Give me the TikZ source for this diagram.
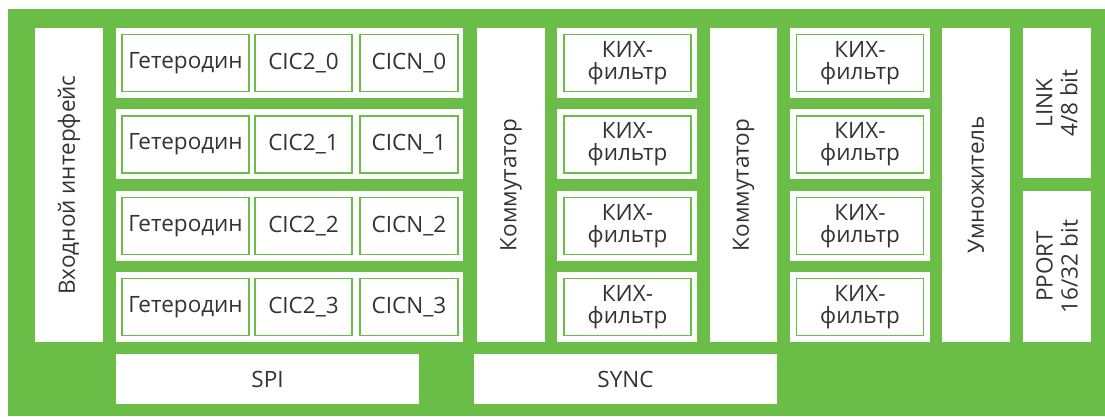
\documentclass[tikz,border=0pt]{standalone}
\usepackage{fontspec}
\setmainfont{Open Sans}
\definecolor{grn}{HTML}{6ABD47}
\definecolor{txt}{HTML}{333333}
\begin{document}
\begin{tikzpicture}[x=1pt,y=-1pt,
  panel/.style={fill=white,draw=none,inner sep=0pt,outer sep=0pt,anchor=north west,text=txt,
    font=\fontsize{22.5}{22}\selectfont,align=center},
  cell/.style={panel,draw=grn,line width=1.4pt},
  vert/.style={rotate=90,text=txt,font=\fontsize{22.5}{25}\selectfont,align=center,inner sep=0pt}]
\useasboundingbox (0,0) rectangle (1105,416);
\fill[grn] (8,9) rectangle (1105,416);
% input interface
\node[panel,minimum width=68pt,minimum height=314pt] (inp) at (35,28) {};
\node[vert] (inpt) at (inp.center) {Входной интерфейс};
% heterodyne rows
\foreach \i/\yy in {0/28,1/109.3,2/190.7,3/272}{
  \node[panel,minimum width=347pt,minimum height=70pt] (row\i) at (116,\yy) {};
  \node[cell,minimum width=127pt,minimum height=57pt] (het\i) at (122,\yy+6.5) {Гетеродин};
  \node[cell,minimum width=97pt,minimum height=57pt] (cic\i) at (255,\yy+6.5) {CIC2\_\i};
  \node[cell,minimum width=98pt,minimum height=57pt] (cicn\i) at (360,\yy+6.5) {CICN\_\i};
  \node[panel,minimum width=140pt,minimum height=70pt] (fa\i) at (557,\yy) {};
  \node[cell,minimum width=127pt,minimum height=57pt] (fia\i) at (564,\yy+6.5) {КИХ-\\фильтр};
  \node[panel,minimum width=140pt,minimum height=70pt] (fb\i) at (790,\yy) {};
  \node[cell,minimum width=127pt,minimum height=57pt] (fib\i) at (796.5,\yy+6.5) {КИХ-\\фильтр};
}
% commutators
\node[panel,minimum width=68pt,minimum height=314pt] (kom1) at (477,28) {};
\node[vert] (kom1t) at (kom1.center) {Коммутатор};
\node[panel,minimum width=67pt,minimum height=314pt] (kom2) at (710,28) {};
\node[vert] (kom2t) at (kom2.center) {Коммутатор};
% multiplier
\node[panel,minimum width=68pt,minimum height=314pt] (mul) at (942,28) {};
\node[vert] (mult) at (mul.center) {Умножитель};
% link / pport
\node[panel,minimum width=68pt,minimum height=150pt] (link) at (1023,28) {};
\node[vert] (linkt) at (link.center) {LINK\\4/8 bit};
\node[panel,minimum width=68pt,minimum height=151pt] (pport) at (1023,191) {};
\node[vert] (pportt) at (pport.center) {PPORT\\16/32 bit};
% SPI / SYNC
\node[panel,minimum width=303pt,minimum height=50pt] (spi) at (116,354) {SPI};
\node[panel,minimum width=303pt,minimum height=50pt] (sync) at (474,354) {SYNC};
\end{tikzpicture}
\end{document}
